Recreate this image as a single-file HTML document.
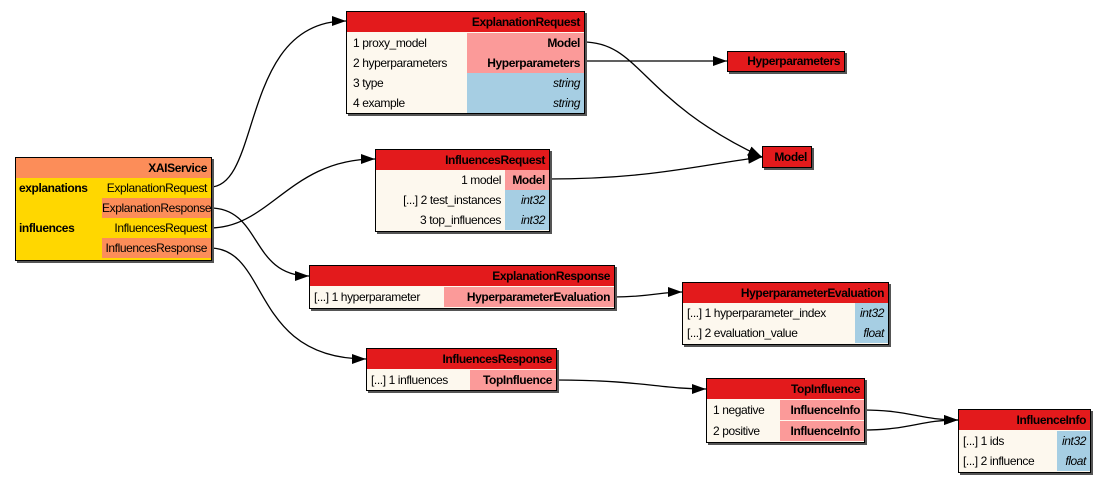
<!DOCTYPE html>
<html><head><meta charset="utf-8"><style>
body{margin:0;width:1105px;height:483px;background:#fff;position:relative;overflow:hidden;font-family:"Liberation Sans",sans-serif;font-size:12px;letter-spacing:-0.4px;}
.t{position:absolute;border:1px solid #000;box-shadow:2px 2px 0 #555;background:#fdf8ee;}
.h{position:absolute;left:0;right:0;top:0;height:20px;background:#e31a1c;font-weight:bold;text-align:right;padding-right:4px;line-height:20px;}
.c{position:absolute;height:20px;line-height:20px;white-space:nowrap;}
.l{padding-left:6px;}
.r{text-align:right;padding-right:4px;}
.p{background:#fb9a99;font-weight:bold;}
.b{background:#a6cee3;font-style:italic;}
.o{background:#fc8d59;}
svg{position:absolute;left:0;top:0;}
</style></head><body>
<svg width="1105" height="483">
<defs><marker id="a" markerWidth="14" markerHeight="10" refX="14" refY="5" orient="auto" markerUnits="userSpaceOnUse"><path d="M0,0 L14,5 L0,10 z" fill="#000"/></marker></defs>
<g fill="none" stroke="#000" stroke-width="1.3" marker-end="url(#a)">
<path d="M210,187 C262,187 240,21 346,21"/>
<path d="M210,208 C262,208 250,276 309,276"/>
<path d="M210,228 C270,228 290,159 375,159"/>
<path d="M210,248 C270,248 250,359 366,359"/>
<path d="M583,42 C640,42 640,100 762,157"/>
<path d="M583,61 L727,61"/>
<path d="M548,179 C650,179 700,165 762,157"/>
<path d="M613,297 C650,297 660,292 682,292"/>
<path d="M555,380 C640,380 660,389 706,389"/>
<path d="M863,410 C910,410 920,420 958,420"/>
<path d="M863,430 C910,430 920,420 958,420"/>
</g></svg>

<div class="t" style="left:15px;top:157px;width:195px;height:102px;background:#ffd700">
<div class="h" style="background:#fc8d59">XAIService</div>
<div class="c" style="left:3px;top:20px;font-weight:bold">explanations</div>
<div class="c" style="left:3px;top:60px;font-weight:bold">influences</div>
<div class="c r" style="left:86px;right:0;top:20px">ExplanationRequest</div>
<div class="c r o" style="left:86px;right:0;top:40px">ExplanationResponse</div>
<div class="c r" style="left:86px;right:0;top:60px">InfluencesRequest</div>
<div class="c r o" style="left:86px;right:0;top:80px">InfluencesResponse</div>
</div>

<div class="t" style="left:346px;top:11px;width:237px;height:101px">
<div class="h">ExplanationRequest</div>
<div class="c l" style="left:0;top:21px">1 proxy_model</div>
<div class="c l" style="left:0;top:41px">2 hyperparameters</div>
<div class="c l" style="left:0;top:61px">3 type</div>
<div class="c l" style="left:0;top:81px">4 example</div>
<div class="c r p" style="left:120px;right:0;top:21px">Model</div>
<div class="c r p" style="left:120px;right:0;top:41px">Hyperparameters</div>
<div class="c r b" style="left:120px;right:0;top:61px">string</div>
<div class="c r b" style="left:120px;right:0;top:81px">string</div>
</div>

<div class="t" style="left:727px;top:51px;width:116px;height:19px"><div class="h" style="height:19px;line-height:19px">Hyperparameters</div></div>
<div class="t" style="left:762px;top:146px;width:48px;height:20px"><div class="h">Model</div></div>

<div class="t" style="left:375px;top:149px;width:173px;height:81px">
<div class="h">InfluencesRequest</div>
<div class="c r" style="left:0;width:125px;top:20px">1 model</div>
<div class="c r" style="left:0;width:125px;top:40px">[...] 2 test_instances</div>
<div class="c r" style="left:0;width:125px;top:60px">3 top_influences</div>
<div class="c r p" style="left:129px;right:0;top:20px">Model</div>
<div class="c r b" style="left:129px;right:0;top:40px">int32</div>
<div class="c r b" style="left:129px;right:0;top:60px">int32</div>
</div>

<div class="t" style="left:309px;top:265px;width:304px;height:42px">
<div class="h">ExplanationResponse</div>
<div class="c l" style="left:-2px;top:21px">[...] 1 hyperparameter</div>
<div class="c r p" style="left:134px;right:0;top:21px">HyperparameterEvaluation</div>
</div>

<div class="t" style="left:682px;top:282px;width:205px;height:61px">
<div class="h">HyperparameterEvaluation</div>
<div class="c l" style="left:-2px;top:20px">[...] 1 hyperparameter_index</div>
<div class="c l" style="left:-2px;top:40px">[...] 2 evaluation_value</div>
<div class="c r b" style="left:172px;right:0;top:20px">int32</div>
<div class="c r b" style="left:172px;right:0;top:40px">float</div>
</div>

<div class="t" style="left:366px;top:348px;width:189px;height:41px">
<div class="h">InfluencesResponse</div>
<div class="c l" style="left:-2px;top:21px">[...] 1 influences</div>
<div class="c r p" style="left:103px;right:0;top:21px">TopInfluence</div>
</div>

<div class="t" style="left:706px;top:378px;width:157px;height:63px">
<div class="h">TopInfluence</div>
<div class="c l" style="left:0;top:21px">1 negative</div>
<div class="c l" style="left:0;top:42px">2 positive</div>
<div class="c r p" style="left:73px;right:0;top:21px">InfluenceInfo</div>
<div class="c r p" style="left:73px;right:0;top:42px">InfluenceInfo</div>
</div>

<div class="t" style="left:958px;top:409px;width:131px;height:62px">
<div class="h">InfluenceInfo</div>
<div class="c l" style="left:-2px;top:21px">[...] 1 ids</div>
<div class="c l" style="left:-2px;top:41px">[...] 2 influence</div>
<div class="c r b" style="left:98px;right:0;top:21px">int32</div>
<div class="c r b" style="left:98px;right:0;top:41px">float</div>
</div>
</body></html>
